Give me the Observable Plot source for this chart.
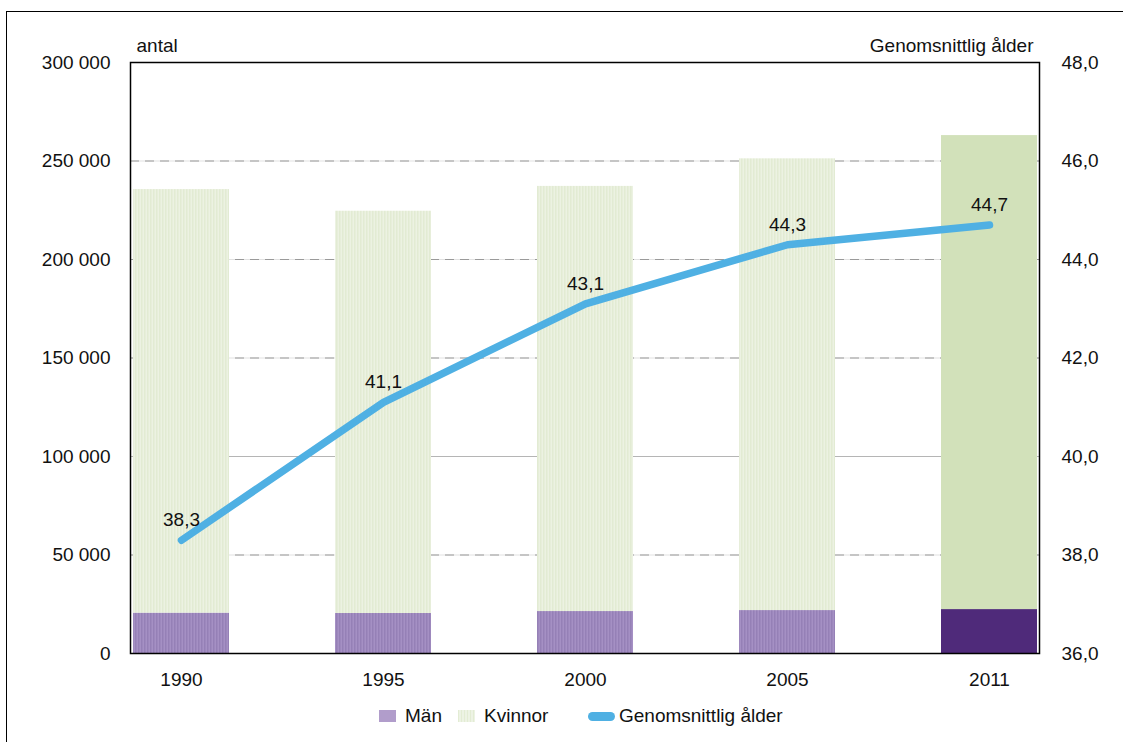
<!DOCTYPE html>
<html>
<head>
<meta charset="utf-8">
<script src="https://cdn.jsdelivr.net/npm/d3@7"></script>
<script src="https://cdn.jsdelivr.net/npm/@observablehq/plot@0.6"></script>
<style>
  html, body { margin: 0; padding: 0; background: #fff; }
  #wrap { position: relative; width: 1123px; height: 742px; overflow: hidden; font-family: "Liberation Sans", Arial, sans-serif; }
  #border { position: absolute; left: 6px; top: 11px; width: 1200px; height: 800px; border: 1.5px solid #000; box-sizing: border-box; }
  #chart { position: absolute; left: 0; top: 0; }
  #legend { position: absolute; top: 704px; left: 0; width: 1123px; font-size: 19px; color: #111; }
  .item { position: absolute; top: 0; display: flex; align-items: center; height: 24px; }
  .sw { display: inline-block; width: 17px; height: 12px; margin-right: 9px; }
  .ln { display: inline-block; width: 27px; height: 9px; border-radius: 5px; background: #4fb0e3; margin-right: 4px; }
</style>
</head>
<body>
<div id="wrap">
  <div id="border"></div>
  <div id="chart"></div>
  <div id="legend">
    <div class="item" style="left:379px"><span class="sw" style="background:#b19dcb"></span>Män</div>
    <div class="item" style="left:458px"><span class="sw" style="background:repeating-linear-gradient(90deg,#e3ecd4 0 1.5px,#edf3e4 1.5px 3px)"></span>Kvinnor</div>
    <div class="item" style="left:588px"><span class="ln"></span>Genomsnittlig ålder</div>
  </div>
</div>
<script>
// ---- data ----
const years = ["1990", "1995", "2000", "2005", "2011"];
const man = [20500, 20300, 21300, 21800, 22300];
const kvinnor = [215000, 204200, 215800, 229300, 240600];
const age = [38.3, 41.1, 43.1, 44.3, 44.7];
const leftTicks = [0, 50000, 100000, 150000, 200000, 250000, 300000];
const rightTicks = [36, 38, 40, 42, 44, 46, 48];
const dashedGrid = [50000, 150000, 200000, 250000];
const solidGrid = [100000];

// secondary (age) axis mapped onto the count scale
const ageToCount = d3.scaleLinear([36, 48], [0, 300000]);

const fills = {
  "Män": ["url(#stripeM)", "#4f2a7a"],
  "Kvinnor": ["url(#stripeK)", "#d2e1ba"]
};

const rows = years.flatMap((yr, i) => [
  {year: yr, sex: "Män", value: man[i]},
  {year: yr, sex: "Kvinnor", value: kvinnor[i]}
]);
const ageRows = years.map((yr, i) => ({year: yr, age: age[i], y: ageToCount(age[i])}));

const fmtLeft = d => d3.format(",")(d).replace(/,/g, " ");
const fmtRight = d => ageToCount.invert(d).toFixed(1).replace(".", ",");

const plot = Plot.plot({
  width: 1123,
  height: 695,
  marginLeft: 130,
  marginRight: 84,
  marginTop: 62,
  marginBottom: 42,
  style: {fontFamily: "'Liberation Sans', Arial, sans-serif", fontSize: "19px", color: "#111", background: "transparent", overflow: "visible"},
  x: {type: "band", domain: years, paddingInner: 0.525, paddingOuter: 0.011, align: 0.5},
  y: {domain: [0, 300000]},
  color: {type: "identity"},
  marks: [
    Plot.ruleY(dashedGrid, {stroke: "#e2e2e2", strokeWidth: 1.2}),
    Plot.ruleY(dashedGrid, {stroke: "#9a9a9a", strokeWidth: 1.2, strokeDasharray: "9,6"}),
    Plot.ruleY(solidGrid, {stroke: "#b5b5b5", strokeWidth: 1}),
    Plot.barY(rows, Plot.stackY({x: "year", y: "value", z: "sex", order: null,
      fill: d => fills[d.sex][d.year === "2011" ? 1 : 0]})),
    Plot.frame({stroke: "#000", strokeWidth: 1.5}),
    Plot.axisX({tickSize: 0, tickPadding: 19, label: null}),
    Plot.axisY({anchor: "left", ticks: leftTicks, tickSize: 0, tickPadding: 20, tickFormat: fmtLeft, label: null}),
    Plot.axisY({anchor: "right", ticks: rightTicks.map(v => ageToCount(v)), tickSize: 0, tickPadding: 22, tickFormat: fmtRight, label: null}),
    Plot.line(ageRows, {x: "year", y: "y", stroke: "#4fb0e3", strokeWidth: 7.5, strokeLinecap: "round", strokeLinejoin: "round"}),
    Plot.text(ageRows, {x: "year", y: "y", text: d => d.age.toFixed(1).replace(".", ","), dy: -20, fill: "#111"}),
    Plot.text(["antal"], {frameAnchor: "top-left", lineAnchor: "middle", text: d => d, textAnchor: "start", dx: 6, dy: -17, fill: "#111"}),
    Plot.text(["Genomsnittlig ålder"], {frameAnchor: "top-right", lineAnchor: "middle", text: d => d, textAnchor: "end", dx: -6, dy: -17, fill: "#111"})
  ]
});

// stripe patterns for the bars
const ns = "http://www.w3.org/2000/svg";
const defs = document.createElementNS(ns, "defs");
function stripe(id, a, b) {
  const p = document.createElementNS(ns, "pattern");
  p.setAttribute("id", id);
  p.setAttribute("patternUnits", "userSpaceOnUse");
  p.setAttribute("width", 3);
  p.setAttribute("height", 10);
  const r1 = document.createElementNS(ns, "rect");
  r1.setAttribute("width", 3); r1.setAttribute("height", 10); r1.setAttribute("fill", a);
  const r2 = document.createElementNS(ns, "rect");
  r2.setAttribute("width", 1.5); r2.setAttribute("height", 10); r2.setAttribute("fill", b);
  p.appendChild(r1); p.appendChild(r2);
  defs.appendChild(p);
}
stripe("stripeM", "#a590c4", "#9580b6");
stripe("stripeK", "#ecf2e2", "#e2ebd3");
plot.insertBefore(defs, plot.firstChild);

document.getElementById("chart").appendChild(plot);
</script>
</body>
</html>
